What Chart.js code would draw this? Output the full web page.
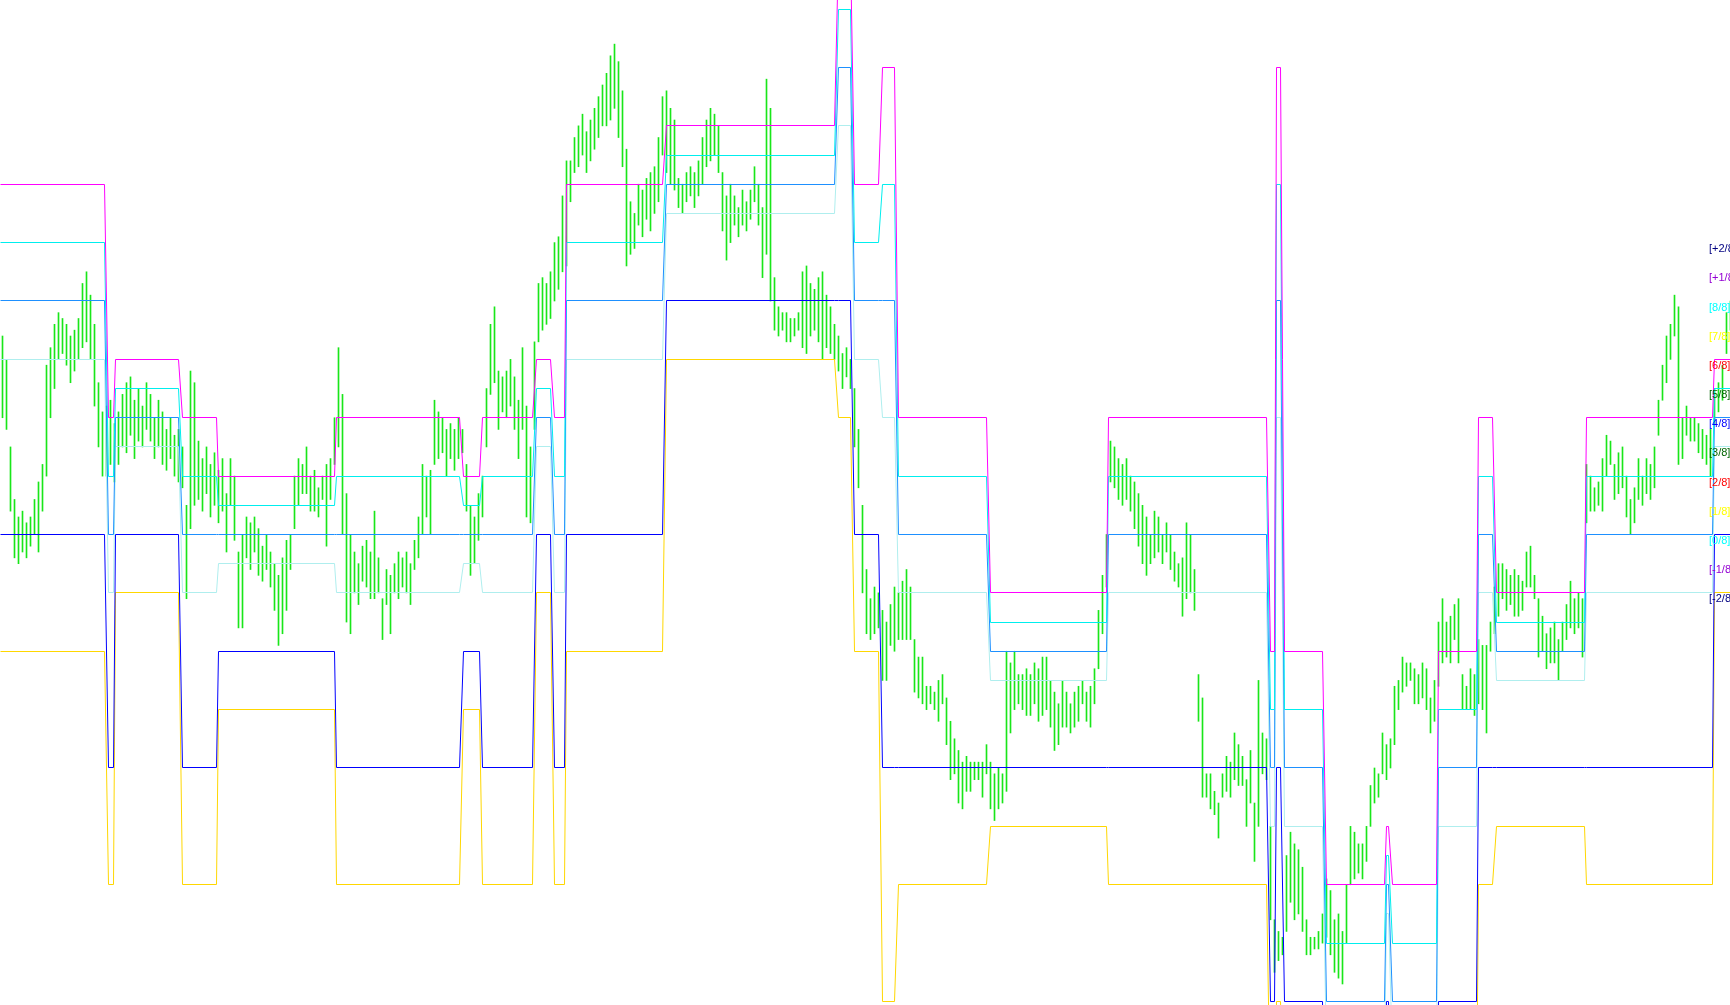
<!DOCTYPE html>
<html><head><meta charset="utf-8">
<script src="https://cdn.jsdelivr.net/npm/chart.js@4"></script>
<style>html,body{margin:0;padding:0;background:#fff;overflow:hidden}canvas{display:block}</style>
</head><body>
<canvas id="c" width="1730" height="1005"></canvas>
<script>
// Price bars (high / low), in Murrey level units, one every second bar of the original chart
const barHigh = [
3.4,3.0,1.5,0.6,0.3,0.4,0.2,0.3,0.6,0.9,
1.2,2.9,3.2,3.6,3.8,3.7,3.6,3.4,3.5,3.7,
4.3,4.5,4.1,3.6,2.6,2.1,2.2,2.3,1.9,2.1,
2.4,2.6,2.7,2.3,2.5,2.2,2.6,2.4,2.0,2.3,
2.1,1.8,2.0,1.7,1.8,1.5,0.5,2.8,2.6,1.6,
1.3,1.5,1.2,1.4,1.1,1.3,0.7,1.3,1.0,-0.3,
0.0,0.3,0.2,0.3,0.1,-0.2,0.0,-0.3,-0.5,-0.7,
-0.4,-0.1,0.0,1.0,1.3,1.2,1.5,1.0,1.1,0.8,
1.0,1.2,1.3,2.0,3.2,2.4,0.7,0.0,-0.3,-0.5,
-0.2,-0.1,-0.3,0.4,-0.4,-1.1,-0.6,-0.7,-0.5,-0.3,
-0.4,-0.3,-0.5,-0.1,0.3,1.2,1.0,1.1,2.3,2.1,
2.0,1.8,1.9,1.8,2.0,1.8,1.2,0.5,0.3,0.7,
1.0,2.5,3.6,3.9,2.8,2.7,2.8,3.0,2.7,2.3,
3.2,2.2,1.5,3.3,4.3,4.4,4.3,4.5,5.0,5.1,
5.8,6.4,6.4,6.8,7.0,7.2,6.9,7.1,7.3,7.5,
7.7,7.9,8.2,8.4,8.1,7.6,6.6,5.7,5.5,6.0,
5.9,6.1,6.2,6.3,6.8,7.5,7.6,7.3,7.1,6.1,
6.0,6.2,6.3,6.2,6.4,6.8,7.1,7.3,7.2,7.0,
6.2,5.8,6.0,5.8,5.6,5.9,5.7,5.9,6.3,6.0,
5.6,7.8,7.3,4.4,3.9,3.8,3.8,3.7,3.7,3.8,
4.5,4.6,4.3,4.2,4.4,4.5,4.1,3.9,3.6,3.4,
3.1,3.2,3.0,2.5,1.8,0.5,-0.6,-1.1,-0.9,-1.0,
-1.3,-1.5,-1.2,-0.9,-1.0,-0.8,-0.6,-0.9,-1.8,-2.1,
-2.1,-2.6,-2.6,-2.7,-2.5,-2.4,-2.8,-3.2,-3.5,-3.7,
-3.9,-3.8,-3.9,-3.9,-3.9,-3.9,-3.6,-3.9,-4.1,-4.0,
-4.1,-2.0,-2.2,-2.0,-2.4,-2.4,-2.3,-2.4,-2.2,-2.3,
-2.1,-2.1,-2.5,-2.7,-2.9,-2.5,-2.7,-2.9,-2.7,-2.6,
-2.5,-2.7,-2.6,-2.3,-1.3,-0.7,0.0,1.6,1.5,1.3,
1.2,1.3,1.0,0.9,0.7,0.5,0.3,0.0,0.4,0.3,
0.0,0.2,0.0,-0.3,-0.5,-0.4,0.2,0.0,-0.6,-2.4,
-2.8,-4.1,-4.1,-4.4,-4.6,-4.1,-3.8,-3.9,-3.4,-3.6,
-3.8,-4.2,-3.7,-4.6,-2.5,-3.4,-3.5,-5.0,-6.6,-6.8,
-6.9,-5.5,-5.1,-5.3,-5.4,-5.7,-6.6,-6.9,-6.9,-6.8,
-6.5,-5.9,-6.1,-6.6,-6.5,-6.8,-6.0,-5.0,-5.1,-5.3,
-5.3,-5.0,-4.3,-4.0,-4.1,-3.4,-3.6,-3.5,-2.6,-2.5,
-2.1,-2.2,-2.2,-2.3,-2.4,-2.2,-2.3,-2.8,-2.5,-1.5,
-1.1,-1.5,-1.4,-1.2,-1.1,-2.4,-2.6,-2.3,-2.4,-1.8,
-1.9,-1.9,-1.5,-0.9,-0.5,-0.5,-0.6,-0.7,-0.6,-0.7,
-0.8,-0.3,-0.2,-0.7,-1.1,-1.4,-1.7,-1.6,-1.5,-1.8,
-1.5,-1.2,-0.8,-1.1,-1.0,-1.1,1.2,1.0,0.8,0.9,
1.3,1.7,1.6,1.2,1.4,1.5,1.0,0.6,0.8,1.3,
1.0,1.3,1.2,1.5,2.3,2.9,3.4,3.6,4.1,3.9,
2.0,2.2,2.0,2.0,1.9,1.8,1.7,1.8,2.5,2.6,
2.9,3.8,4.0];
const barLow = [
2.0,1.8,0.4,-0.4,-0.5,-0.3,-0.4,-0.2,0.0,-0.3,
0.4,1.0,2.0,2.5,3.0,3.1,2.9,2.6,2.8,3.0,
3.2,3.3,3.0,2.2,1.5,1.0,1.0,1.2,0.9,1.2,
1.5,1.4,1.7,1.3,1.6,1.5,1.8,1.6,1.3,1.5,
1.2,1.1,1.3,1.0,0.9,0.8,-1.1,0.1,0.5,0.6,
0.4,0.7,0.3,0.5,0.2,0.4,-0.3,0.5,-0.1,-1.6,
-1.6,-0.4,-0.6,-0.3,-0.7,-0.8,-0.6,-0.9,-1.3,-1.9,
-1.7,-1.3,-0.6,0.1,0.5,0.7,0.7,0.4,0.4,0.3,
0.6,-0.2,0.6,1.2,1.5,0.0,-1.5,-1.7,-1.0,-1.2,
-0.8,-0.9,-1.1,-1.1,-1.0,-1.8,-1.2,-1.7,-1.0,-1.1,
-0.9,-1.0,-1.2,-0.6,-0.4,0.0,0.3,0.0,1.2,1.3,
1.4,1.0,1.3,1.1,1.3,1.4,0.4,-0.7,-0.5,-0.1,
0.3,1.5,2.4,2.6,1.8,2.1,2.0,2.2,1.8,1.3,
1.8,0.3,0.2,1.8,3.3,3.5,3.6,3.7,4.0,4.2,
4.5,4.6,5.7,6.2,6.3,6.5,6.2,6.4,6.6,6.8,
7.0,7.0,7.1,7.3,6.8,6.3,4.6,4.8,4.9,5.3,
5.1,5.4,5.2,5.5,5.7,6.5,6.2,6.0,5.9,5.6,
5.5,5.7,5.8,5.6,5.8,6.0,6.3,6.4,6.5,6.2,
5.2,4.7,5.0,5.3,5.1,5.3,5.2,5.4,5.7,5.3,
4.4,4.8,4.0,3.5,3.4,3.5,3.3,3.3,3.4,3.5,
3.2,3.1,3.4,3.5,3.3,3.0,3.2,3.1,3.0,2.8,
2.5,2.7,2.5,1.5,0.8,-1.0,-1.7,-1.8,-1.7,-1.6,
-2.5,-2.5,-1.9,-2.0,-1.8,-1.8,-1.8,-1.8,-2.7,-2.8,
-2.9,-3.0,-2.9,-3.0,-3.2,-2.9,-3.6,-4.2,-4.1,-4.6,
-4.7,-4.4,-4.4,-4.2,-4.2,-4.5,-4.1,-4.7,-4.9,-4.7,
-4.6,-4.4,-3.4,-3.0,-2.9,-3.0,-3.1,-3.1,-2.9,-3.2,
-3.1,-3.0,-3.3,-3.7,-3.6,-3.3,-3.3,-3.4,-3.3,-3.2,
-2.9,-3.2,-3.3,-2.9,-2.3,-1.7,-0.9,0.9,0.8,0.6,
0.5,0.6,0.4,0.1,-0.2,-0.5,-0.7,-0.5,-0.4,-0.3,
-0.5,-0.3,-0.6,-0.8,-0.9,-1.4,-1.1,-1.0,-1.3,-3.2,
-4.5,-4.5,-4.7,-4.8,-5.2,-4.5,-4.4,-4.5,-4.2,-4.3,
-4.3,-5.0,-4.6,-5.6,-5.0,-4.1,-4.2,-6.6,-7.5,-7.3,
-7.2,-6.8,-6.3,-6.6,-6.5,-6.8,-7.2,-7.2,-7.1,-7.1,
-7.0,-6.9,-7.2,-7.5,-7.6,-7.7,-7.0,-6.0,-5.9,-5.8,
-5.9,-5.6,-5.0,-4.6,-4.5,-4.1,-4.2,-4.0,-3.6,-3.0,
-2.7,-2.6,-2.5,-2.9,-2.9,-2.8,-3.0,-3.4,-3.2,-2.6,
-2.2,-2.1,-2.2,-1.8,-2.2,-3.0,-3.0,-3.0,-3.1,-2.9,
-3.0,-3.4,-2.0,-1.7,-1.4,-1.1,-1.3,-1.2,-1.4,-1.4,
-1.3,-0.9,-0.9,-1.1,-2.1,-2.0,-2.3,-2.2,-2.2,-2.5,
-2.0,-1.8,-1.6,-1.7,-1.6,-2.1,0.2,0.4,0.4,0.5,
0.4,1.0,1.2,0.6,0.7,0.8,0.3,0.0,0.2,0.6,
0.5,0.7,0.6,0.8,1.7,2.3,2.6,3.0,3.4,1.2,
1.3,1.7,1.6,1.6,1.4,1.3,1.2,1.0,1.9,2.1,
2.3,3.1,3.5];

// Murrey frames: first and last bar of each frame (original bar numbers)
const segStart = [0,54,58,91,109,168,232,241,268,277,283,333,419,427,441,449,495,554,635,638,642,663,693,696,719,739,748,793,857];
const segEnd   = [52,57,89,108,167,230,240,266,275,282,331,417,425,439,447,493,553,633,637,640,661,692,694,718,738,746,792,856,865];
// level of each drawn line in each frame
const magentaLvl = [6,2,3,2,1,2,1,2,3,2,6,7,10,6,8,2,-1,2,-2,8,-2,-6,-5,-6,-2,2,-1,2,3];
const cyanLvl    = [5,1,2.5,1,0.5,1,0.5,1,2.5,1,5,6.5,9,5,6,1,-1.5,1,-3,6,-3,-7,-5.5,-7,-3,1,-1.5,1,2.5];
const dodgerLvl  = [4,0,2,0,0,0,0,0,2,0,4,6,8,4,4,0,-2,0,-4,4,-4,-8,-6,-8,-4,0,-2,0,2];
const paleLvl    = [3,-1,1.5,-1,-0.5,-1,-0.5,-1,1.5,-1,3,5.5,7,3,2,-1,-2.5,-1,-5,2,-5,-9,-6.5,-9,-5,-1,-2.5,-1,1.5];
const blueLvl    = [0,-4,0,-4,-2,-4,-2,-4,0,-4,0,4,4,0,-4,-4,-4,-4,-8,-4,-8,-12,-8,-12,-8,-4,-4,-4,0];
const goldLvl    = [-2,-6,-1,-6,-3,-6,-3,-6,-1,-6,-2,3,2,-2,-8,-6,-5,-6,-10,-8,-10,-14,-9,-14,-10,-6,-5,-6,-1];

// right-hand labels
const labelText  = ['[+2/8]','[+1/8]','[8/8]','[7/8]','[6/8]','[5/8]','[4/8]','[3/8]','[2/8]','[1/8]','[0/8]','[-1/8]','[-2/8]'];
const labelLevel = [5,4.5,4,3.5,3,2.5,2,1.5,1,0.5,0,-0.5,-1];
const labelColor = ['#000080','#9400d3','#00ffff','#ffff00','#ff0000','#006400','#0000ff','#006400','#ff0000','#ffff00','#00ffff','#9400d3','#000080'];

function stepPoints(levels){
  const pts=[];
  for(let k=0;k<segStart.length;k++){
    pts.push({x:segStart[k],y:levels[k]});
    pts.push({x:segEnd[k],y:levels[k]});
  }
  return pts;
}
const barData = barHigh.map((h,i)=>({x:2*i+1.25,y:[barLow[i],h]}));
function lineDs(levels,color,order){
  return {type:'line',data:stepPoints(levels),borderColor:color,borderWidth:1,pointRadius:0,
    tension:0,fill:false,order:order,borderCapStyle:'butt',borderJoinStyle:'miter'};
}
// snap line vertices to pixel centres so the 1px lines stay crisp
const crispPlugin = {
  id:'crisp',
  beforeDatasetsDraw(chart){
    chart.data.datasets.forEach((ds,i)=>{
      if(ds.type!=='line') return;
      chart.getDatasetMeta(i).data.forEach(p=>{ p.x=Math.floor(p.x)+0.5; p.y=Math.floor(p.y)+0.5; });
    });
  }
};
const labelPlugin = {
  id:'mmlLabels',
  afterDatasetsDraw(chart){
    const ctx=chart.ctx, ys=chart.scales.y;
    ctx.save();
    ctx.font='11px "Liberation Sans", Arial, sans-serif';
    ctx.textBaseline='top'; ctx.textAlign='left';
    const x = chart.chartArea.right - 21;
    labelText.forEach((t,i)=>{ ctx.fillStyle=labelColor[i]; ctx.fillText(t, x, ys.getPixelForValue(labelLevel[i])+1); });
    ctx.restore();
  }
};
new Chart(document.getElementById('c'),{
  type:'bar',
  data:{datasets:[
    {type:'bar',data:barData,backgroundColor:'#19e619',borderWidth:0,barThickness:1,order:10},
    lineDs(goldLvl,'#ffd700',6),
    lineDs(paleLvl,'#afeeee',5),
    lineDs(dodgerLvl,'#1e90ff',4),
    lineDs(cyanLvl,'#00eeee',3),
    lineDs(magentaLvl,'#ff00ff',2),
    lineDs(blueLvl,'#0000ff',1)
  ]},
  options:{
    responsive:false,animation:false,devicePixelRatio:1,events:[],
    layout:{padding:0},
    plugins:{legend:{display:false},tooltip:{enabled:false}},
    scales:{
      x:{type:'linear',min:0,max:865,display:false,offset:false,grid:{display:false}},
      y:{type:'linear',min:-8.06,max:9.156,display:false,grid:{display:false}}
    }
  },
  plugins:[crispPlugin,labelPlugin]
});
</script>
</body></html>
